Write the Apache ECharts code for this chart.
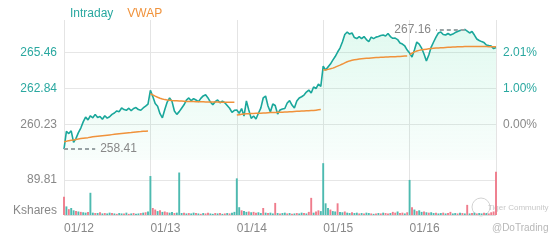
<!DOCTYPE html>
<html><head><meta charset="utf-8">
<script src="https://cdn.jsdelivr.net/npm/echarts/dist/echarts.min.js"></script>
<style>html,body{margin:0;padding:0;background:#fff}#c{width:560px;height:240px}</style>
</head><body><div id="c"></div>
<script>
const dateLabels = ['01/12', '01/13', '01/14', '01/15', '01/16'];
const priceTicks = [260.23, 262.84, 265.46];
const pctTicks = ['0.00%', '1.00%', '2.01%'];
const volTick = 89.81;

const priceD1 = [258.41,259.70,259.55,259.75,258.90,259.20,259.62,259.95,260.40,260.75,260.55,260.85,260.70,260.95,260.72,260.80,260.60,260.85,260.68,260.78,260.95,261.05,261.20,261.15,261.42,261.30,261.25,261.40,261.22,261.38,261.45,261.30,261.25,261.42,261.55,261.70];
const priceD2 = [262.71,262.25,261.75,261.55,261.00,260.70,261.30,261.85,262.15,261.90,261.20,260.95,261.15,261.40,261.65,262.00,262.15,261.95,262.10,262.00,261.88,262.12,262.30,262.38,262.15,261.85,261.65,261.88,262.00,261.80,261.92,261.80,261.60,261.40,261.10,261.25];
const priceD3 = [261.27,261.03,261.38,260.83,261.93,261.27,260.66,260.83,260.61,261.03,261.41,262.15,262.29,261.56,261.12,261.71,261.60,260.98,261.27,261.34,261.38,261.78,261.96,261.63,261.41,261.93,262.15,262.24,262.36,262.58,262.73,262.51,262.95,262.84,263.17,262.99];
const priceD4 = [264.48,264.19,264.41,264.63,264.92,265.18,265.51,265.80,266.24,266.79,266.97,266.82,266.90,266.57,266.49,266.64,266.49,266.64,266.42,266.27,266.60,266.49,266.60,266.64,266.71,266.75,266.68,266.86,266.64,266.51,266.53,266.42,266.17,266.09,265.95,265.65];
const priceD5 = [265.43,265.14,265.65,266.24,266.09,265.80,265.36,264.85,265.29,265.87,266.24,266.60,266.90,266.97,266.79,266.75,266.86,266.75,266.82,266.93,267.01,267.08,267.12,267.16,267.04,266.90,267.01,266.75,266.46,266.35,266.27,266.20,266.02,265.98,265.95,265.76,265.84];

const vwapD1 = [258.95,258.98,259.03,259.06,259.08,259.12,259.15,259.18,259.21,259.23,259.25,259.28,259.31,259.33,259.35,259.37,259.39,259.41,259.43,259.45,259.47,259.49,259.51,259.53,259.55,259.57,259.59,259.61,259.62,259.64,259.66,259.68,259.69,259.71,259.72,259.74];
const vwapD2 = [262.46,262.38,262.28,262.20,262.13,262.07,262.03,262.00,261.98,261.96,261.95,261.94,261.93,261.92,261.91,261.90,261.90,261.89,261.89,261.88,261.88,261.87,261.87,261.86,261.86,261.86,261.85,261.85,261.85,261.84,261.84,261.84,261.83,261.83,261.83,261.83];
const vwapD3 = [260.90,260.93,260.96,260.98,260.99,261.00,261.01,261.02,261.03,261.04,261.04,261.05,261.06,261.07,261.08,261.08,261.09,261.10,261.10,261.11,261.12,261.13,261.14,261.15,261.16,261.17,261.18,261.19,261.20,261.21,261.22,261.23,261.24,261.26,261.28,261.30];
const vwapD4 = [264.19,264.20,264.24,264.28,264.33,264.40,264.48,264.55,264.63,264.72,264.80,264.86,264.90,264.94,264.97,265.00,265.02,265.04,265.05,265.06,265.08,265.09,265.10,265.11,265.12,265.13,265.14,265.15,265.16,265.16,265.17,265.18,265.19,265.20,265.21,265.22];
const vwapD5 = [265.30,265.42,265.52,265.58,265.63,265.67,265.70,265.72,265.74,265.76,265.78,265.80,265.81,265.82,265.83,265.84,265.85,265.86,265.87,265.88,265.89,265.90,265.90,265.91,265.91,265.92,265.92,265.92,265.92,265.92,265.92,265.91,265.91,265.90,265.90,265.89,265.89];

const volD1 = [47,22,15,18,12,10,9,8,7,6,8,57,6,5,5,7,4,5,4,6,5,4,3,5,4,4,6,3,4,5,3,4,5,6,7,9];
const volD2 = [100,18,14,10,12,8,9,7,6,8,5,6,109,5,6,4,5,4,6,5,4,3,5,4,6,4,3,5,4,5,3,4,5,4,6,8];
const volD3 = [94,20,12,10,8,9,7,8,6,7,5,18,6,5,6,4,31,5,4,5,6,4,5,3,4,5,4,6,5,4,8,44,6,9,12,10];
const volD4 = [133,30,18,14,10,9,30,8,7,9,6,5,7,5,6,4,5,4,6,5,4,3,4,5,4,6,5,4,5,8,6,9,5,6,4,7];
const volD5 = [90,20,14,10,12,8,9,7,6,7,5,6,4,5,6,4,5,8,4,5,4,6,5,4,26,4,5,6,4,5,4,6,5,4,7,9,111];

const upD1 = [0,1,0,1,1,0,1,0,1,1,0,1,1,0,1,0,1,0,1,1,0,1,0,1,1,0,1,0,1,0,1,1,0,1,0,1];
const upD2 = [1,0,0,1,0,1,0,0,1,1,0,1,1,1,0,1,0,1,1,0,1,0,1,0,0,1,1,0,1,0,1,0,1,0,1,1];
const upD3 = [1,1,0,1,1,0,1,0,0,1,1,0,1,0,1,1,0,1,0,1,1,0,1,0,1,0,1,1,0,1,0,0,1,0,0,1];
const upD4 = [1,1,1,0,1,1,0,1,1,0,1,1,0,1,1,0,1,0,1,1,0,1,0,1,0,1,0,0,1,0,0,1,0,0,1,0];
const upD5 = [1,0,1,0,1,1,0,1,0,1,1,0,1,1,0,1,0,0,1,1,0,1,0,1,0,1,0,1,0,1,1,0,1,0,0,0,0];

const FONT = '"Liberation Sans", Arial, sans-serif';
const TEAL = '#1aa79b', LABEL_TEAL = '#2aa8a0', ORANGE = '#f0923b', GRAY = '#888888';
const UP = '#4dbab0', DOWN = '#ef7c8c';

const priceDays = [priceD1, priceD2, priceD3, priceD4, priceD5];
const vwapDays = [vwapD1, vwapD2, vwapD3, vwapD4, vwapD5];
const volDays = [volD1, volD2, volD3, volD4, volD5];
const upDays = [upD1, upD2, upD3, upD4, upD5];

const categories = [], price = [], vol = [], dayStarts = [];
priceDays.forEach((d, k) => {
  dayStarts.push(categories.length);
  d.forEach((v, i) => {
    categories.push(dateLabels[k] + ' ' + i);
    price.push(v);
    vol.push({ value: volDays[k][i], itemStyle: { color: upDays[k][i] ? UP : DOWN } });
  });
});
const N = categories.length;
const prevClose = priceTicks[0];
const step = (priceTicks[2] - priceTicks[0]) / 2;

let lo = 0, hi = 0;
price.forEach((v, i) => { if (v < price[lo]) lo = i; if (v > price[hi]) hi = i; });

function priceIdx(v) { return priceTicks.findIndex(t => Math.abs(t - v) < 0.02); }

const vwapSeries = vwapDays.map((d, k) => {
  const data = new Array(N).fill(null);
  d.forEach((v, i) => { data[dayStarts[k] + i] = v; });
  return { name: 'VWAP', type: 'line', xAxisIndex: 0, yAxisIndex: 0, data, symbol: 'none', showSymbol: false,
    lineStyle: { color: ORANGE, width: 1.5 }, itemStyle: { color: ORANGE }, z: 4 };
});

const isSplit = (idx) => dayStarts.includes(idx) || idx === N - 1;

const chart = echarts.init(document.getElementById('c'), null, { renderer: 'canvas' });
chart.setOption({
  animation: false,
  textStyle: { fontFamily: FONT },
  legend: {
    left: 59, top: 3, itemWidth: 0, itemHeight: 0, itemGap: 8, selectedMode: false,
    textStyle: { fontSize: 12, fontFamily: FONT },
    data: [{ name: 'Intraday', textStyle: { color: LABEL_TEAL } }, { name: 'VWAP', textStyle: { color: ORANGE } }]
  },
  grid: [
    { left: 64, right: 64, top: 20, height: 140 },
    { left: 64, right: 64, top: 160, height: 55 }
  ],
  xAxis: [
    { type: 'category', gridIndex: 0, data: categories, boundaryGap: false,
      axisLine: { show: false }, axisTick: { show: false }, axisLabel: { show: false },
      splitLine: { show: true, interval: isSplit, lineStyle: { color: '#e4e4e4', width: 1 } } },
    { type: 'category', gridIndex: 1, data: categories, boundaryGap: false,
      axisLine: { show: false }, axisTick: { show: false },
      axisLabel: { show: true, interval: (idx) => dayStarts.includes(idx), formatter: (v) => v.split(' ')[0],
        align: 'left', margin: 8, color: GRAY, fontSize: 12, fontFamily: FONT },
      splitLine: { show: true, interval: isSplit, lineStyle: { color: '#e4e4e4', width: 1 } } }
  ],
  yAxis: [
    { type: 'value', gridIndex: 0, min: prevClose - step, max: 267.85, interval: step,
      axisLine: { show: false }, axisTick: { show: false },
      axisLabel: { margin: 7, fontSize: 12, fontFamily: FONT,
        formatter: (v) => { const i = priceIdx(v); return i < 0 ? '' : priceTicks[i].toFixed(2); },
        color: (v) => (v > prevClose + 0.02 ? LABEL_TEAL : GRAY) },
      splitLine: { show: true, lineStyle: { color: ['rgba(0,0,0,0)', '#e6e6e6', '#e6e6e6', '#e6e6e6', 'rgba(0,0,0,0)'] } } },
    { type: 'value', gridIndex: 0, position: 'right', min: prevClose - step, max: 267.85, interval: step,
      axisLine: { show: false }, axisTick: { show: false }, splitLine: { show: false },
      axisLabel: { margin: 7, fontSize: 12, fontFamily: FONT,
        formatter: (v) => { const i = priceIdx(v); return i < 0 ? '' : pctTicks[i]; },
        color: (v) => (v > prevClose + 0.02 ? LABEL_TEAL : GRAY) } },
    { type: 'value', gridIndex: 1, min: 0, max: 141.13, interval: volTick,
      axisLine: { show: false }, axisTick: { show: false },
      axisLabel: { margin: 7, fontSize: 12, fontFamily: FONT, color: GRAY,
        formatter: (v) => (v === 0 ? '{k|Kshares}' : (Math.abs(v - volTick) < 0.01 ? volTick.toFixed(2) : '')),
        rich: { k: { fontSize: 12, fontFamily: FONT, color: GRAY, padding: [0, 0, 9, 0] } } },
      splitLine: { show: true, lineStyle: { color: ['#dddddd', '#e6e6e6', 'rgba(0,0,0,0)'] } } }
  ],
  series: [
    { name: 'Intraday', type: 'line', xAxisIndex: 0, yAxisIndex: 0, data: price, symbol: 'none', showSymbol: false,
      lineStyle: { color: TEAL, width: 1.6 }, itemStyle: { color: TEAL }, z: 3,
      areaStyle: { color: new echarts.graphic.LinearGradient(0, 0, 0, 1, [
        { offset: 0, color: 'rgba(80,222,165,0.24)' }, { offset: 1, color: 'rgba(80,222,165,0.05)' }]) },
      markLine: {
        silent: true, symbol: ['none', 'none'], animation: false,
        lineStyle: { type: [4, 3], color: '#98a2a4', width: 2 },
        label: { show: true, position: 'end', distance: 5, color: GRAY, fontSize: 12, fontFamily: FONT,
          formatter: (p) => Number(p.value).toFixed(2) },
        emphasis: { disabled: true },
        data: [
          [{ coord: [lo, price[lo]], value: price[lo] }, { coord: [lo + 13, price[lo]], value: price[lo] }],
          [{ coord: [hi, price[hi]], value: price[hi] }, { coord: [hi - 12, price[hi]], value: price[hi] }]
        ]
      } },
    ...vwapSeries,
    { name: 'Volume', type: 'bar', xAxisIndex: 1, yAxisIndex: 2, data: vol, barWidth: 1.9, barGap: '-100%' }
  ],
  graphic: [
    { type: 'circle', shape: { cx: 481, cy: 207, r: 9 }, style: { fill: 'none', stroke: '#d2d2d2', lineWidth: 1 }, silent: true },
    { type: 'text', x: 488, y: 208, silent: true, style: { text: 'Tiger Community', fill: '#c8c8c8', font: '8px ' + FONT, verticalAlign: 'middle', align: 'left' } },
    { type: 'text', x: 492, y: 228, silent: true, style: { text: '@DoTrading', fill: '#b8b8b8', font: '10px ' + FONT, verticalAlign: 'middle', align: 'left' } }
  ]
});
</script>
</body></html>
